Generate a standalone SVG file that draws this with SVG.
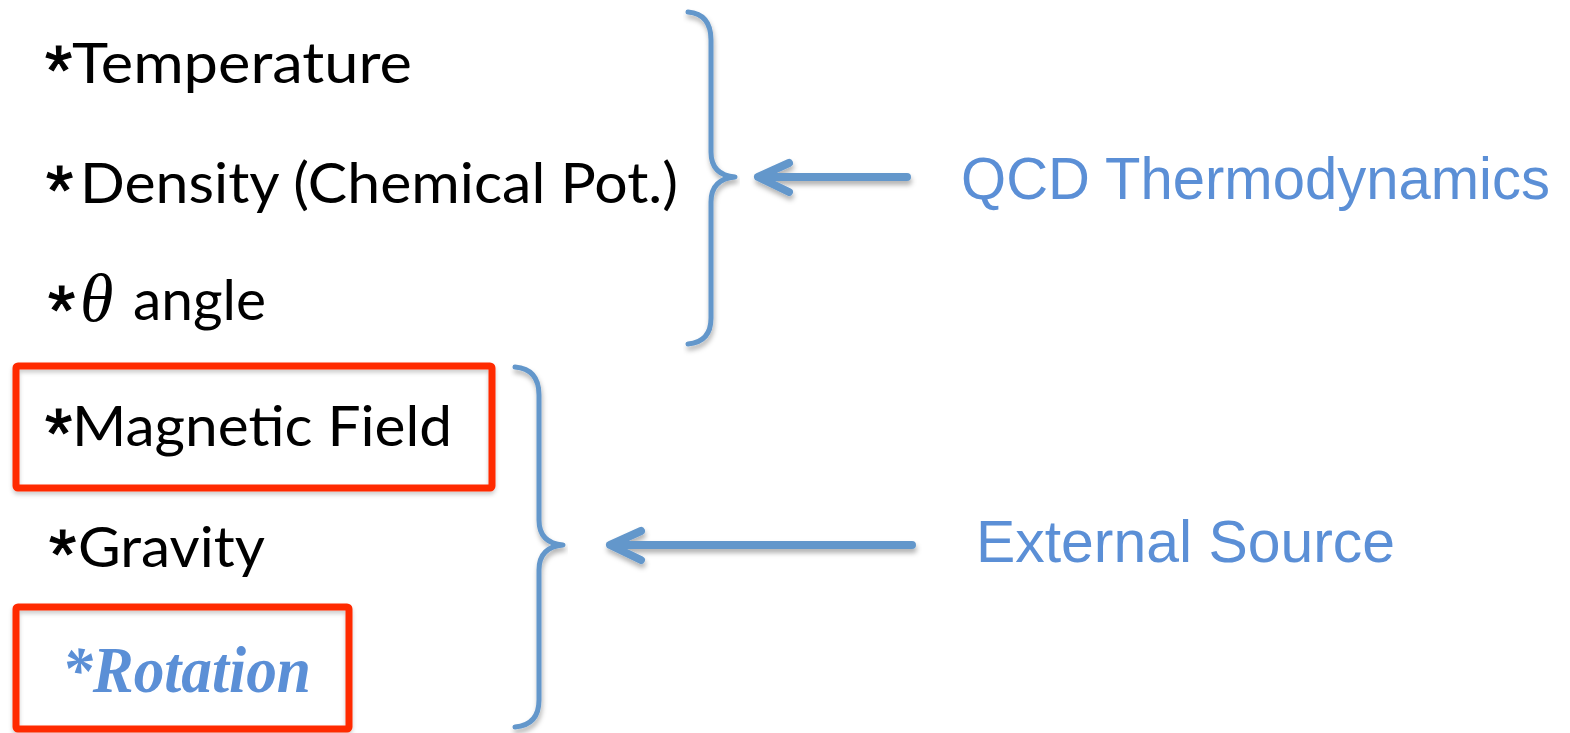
<svg xmlns="http://www.w3.org/2000/svg" width="1570" height="733" viewBox="0 0 1570 733">
<style>
.t{font-family:Lato,"Open Sans","Liberation Sans",sans-serif;font-size:56px;fill:#000}
.s{font-family:"Liberation Sans",Arial,sans-serif;font-size:70px;fill:#000;stroke:#000;stroke-width:1.2}
.b{font-family:"Liberation Sans",Arial,sans-serif;font-size:60px;fill:#5B8FD6}
.br{fill:none;stroke:#6497CB;stroke-width:5;stroke-linecap:round;stroke-linejoin:round}
.ar{fill:none;stroke:#6497CB;stroke-width:8;stroke-linecap:round;stroke-linejoin:round}
.box{fill:none;stroke:#FF2A00;stroke-width:7}
</style>
<defs>
<filter id="sh" x="-10%" y="-50%" width="120%" height="200%">
<feDropShadow dx="1" dy="4" stdDeviation="2.5" flood-color="#000" flood-opacity="0.3"/>
</filter>
<filter id="sh2" x="-5%" y="-10%" width="110%" height="125%">
<feDropShadow dx="0" dy="3" stdDeviation="2" flood-color="#000" flood-opacity="0.2"/>
</filter>
</defs>
<g id="temperature">
<text class="s" x="45" y="95">*</text>
<text class="t" x="72" y="83" textLength="340" lengthAdjust="spacingAndGlyphs">Temperature</text>
</g>
<g id="density">
<text class="s" x="46" y="215">*</text>
<text class="t" x="80" y="203" textLength="598" lengthAdjust="spacingAndGlyphs">Density (Chemical Pot.)</text>
</g>
<g id="theta">
<text class="s" x="48" y="335">*</text>
<text x="80" y="321" font-family="'Liberation Serif',serif" font-style="italic" font-size="68" fill="#000">θ</text>
<text class="t" x="133" y="320" textLength="133" lengthAdjust="spacingAndGlyphs">angle</text>
</g>
<g id="magnetic">
<rect class="box" x="16" y="366" width="476" height="122" rx="2" filter="url(#sh2)"/>
<text class="s" x="45" y="458">*</text>
<text class="t" x="72" y="446" textLength="380" lengthAdjust="spacingAndGlyphs">Magnetic Field</text>
</g>
<g id="gravity">
<text class="s" x="49" y="579">*</text>
<text class="t" x="78" y="567" textLength="187" lengthAdjust="spacingAndGlyphs">Gravity</text>
</g>
<g id="rotation">
<rect class="box" x="16" y="607" width="333" height="122" rx="2" filter="url(#sh2)"/>
<text x="62" y="692" font-family="'Liberation Serif',serif" font-weight="bold" font-style="italic" font-size="65" fill="#5B8FD6" textLength="249" lengthAdjust="spacingAndGlyphs">*Rotation</text>
</g>
<g id="qcd"><text class="b" x="961" y="199" textLength="589" lengthAdjust="spacingAndGlyphs">QCD Thermodynamics</text></g>
<g id="external"><text class="b" x="976" y="562" textLength="419" lengthAdjust="spacingAndGlyphs">External Source</text></g>
<g id="connectors">
<path class="br" d="M688 12 Q711 14 711 40 L711 152 Q711 175 735 177 Q711 179 711 202 L711 318 Q711 342 688 344" filter="url(#sh)"/>
<path class="br" d="M515 367 Q539 369 539 395 L539 520 Q539 543 563 545 Q539 547 539 570 L539 700 Q539 725 515 727" filter="url(#sh)"/>
<g filter="url(#sh)">
<path class="ar" d="M907 177 L760 177 M789 163 L758 177 L789 192"/>
<path class="ar" d="M912 545 L612 545 M641 531 L610 545 L641 560"/>
</g>
</g>
</svg>
